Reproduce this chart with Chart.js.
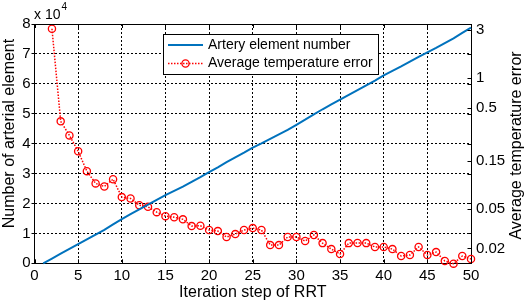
<!DOCTYPE html>
<html>
<head>
<meta charset="utf-8">
<script src="https://cdn.jsdelivr.net/npm/chart.js@4.4.1/dist/chart.umd.min.js"></script>
<style>
  html, body { margin: 0; padding: 0; background: #fff; }
  #wrap { width: 526px; height: 302px; position: relative; }
</style>
</head>
<body>
<div id="wrap"><canvas id="c" width="526" height="302"></canvas></div>
<script>
// ---- data ----
const steps = [1,2,3,4,5,6,7,8,9,10,11,12,13,14,15,16,17,18,19,20,21,22,23,24,25,26,27,28,29,30,31,32,33,34,35,36,37,38,39,40,41,42,43,44,45,46,47,48,49,50];
const arteryElements = [0,1600,3200,4800,6400,8000,9600,11200,13000,14800,16400,18000,19600,21200,22800,24200,25600,27200,28800,30500,32100,33800,35400,37000,38700,40100,41600,43100,44600,46300,48000,49800,51500,53100,54700,56300,57900,59500,61100,62800,64300,65800,67400,69000,70500,72000,73600,75200,77000,78800];
const errorSteps = [2,3,4,5,6,7,8,9,10,11,12,13,14,15,16,17,18,19,20,21,22,23,24,25,26,27,28,29,30,31,32,33,34,35,36,37,38,39,40,41,42,43,44,45,46,47,48,49,50];
const tempErrors = [3.1,0.37,0.268,0.186,0.118,0.089,0.083,0.098,0.065,0.063,0.054,0.052,0.046,0.042,0.041,0.039,0.0334,0.0337,0.0305,0.0298,0.026,0.0278,0.0305,0.0319,0.0305,0.0216,0.0216,0.026,0.026,0.0237,0.0272,0.0226,0.0197,0.0176,0.0226,0.0227,0.0226,0.0207,0.0207,0.0197,0.0168,0.0172,0.0207,0.0172,0.0184,0.015,0.0141,0.0168,0.0157];
const rightTicks = [0.02,0.05,0.15,0.5,1,3];
const labels = {
  series1: 'Artery element number',
  series2: 'Average temperature error',
  xTitle: 'Iteration step of RRT',
  yTitle: 'Number of arterial element',
  y1Title: 'Average temperature error',
  multiplier: 'x 10',
  exponent: '4'
};

const FONT = "'Liberation Sans', Arial, sans-serif";
const BLUE = '#0072BD';
const RED = '#FF0000';

Chart.defaults.font.family = FONT;
Chart.defaults.color = '#000';

const framePlugin = {
  id: 'frame',
  afterDatasetsDraw(chart) {
    const {ctx, chartArea: a, scales} = chart;
    const x = scales.x, y = scales.y, y1 = scales.y1;
    ctx.save();
    ctx.strokeStyle = '#000';
    ctx.lineWidth = 1;
    ctx.setLineDash([]);
    ctx.beginPath();
    const top = Math.round(a.top) + 0.5;
    ctx.moveTo(a.left, top); ctx.lineTo(a.right + 0.5, top);
    x.ticks.forEach(t => {
      const px = Math.round(x.getPixelForValue(t.value)) + 0.5;
      ctx.moveTo(px, a.bottom); ctx.lineTo(px, a.bottom - 4);
      ctx.moveTo(px, a.top); ctx.lineTo(px, a.top + 4);
    });
    const rx = Math.round(a.right) + 0.5;
    y.ticks.forEach(t => {
      const py = Math.round(y.getPixelForValue(t.value)) + 0.5;
      ctx.moveTo(rx, py); ctx.lineTo(rx - 4, py);
    });
    y1.ticks.forEach(t => {
      const py = Math.round(y1.getPixelForValue(t.value)) + 0.5;
      ctx.moveTo(rx, py); ctx.lineTo(rx - 4, py);
    });
    ctx.stroke();
    ctx.restore();
  },
  afterDraw(chart) {
    const {ctx} = chart;
    ctx.save();
    ctx.fillStyle = '#000';
    // multiplier
    ctx.font = '14px ' + FONT;
    ctx.textBaseline = 'alphabetic';
    ctx.textAlign = 'left';
    ctx.fillText(labels.multiplier, 34, 18.5);
    const w = ctx.measureText(labels.multiplier).width;
    ctx.font = '10px ' + FONT;
    ctx.fillText(labels.exponent, 34 + w + 1, 9.5);
    // y titles
    ctx.font = '16px ' + FONT;
    ctx.textAlign = 'center';
    ctx.textBaseline = 'middle';
    ctx.save();
    ctx.translate(10, 133.5);
    ctx.rotate(-Math.PI / 2);
    ctx.fillText(labels.yTitle, 0, 0);
    ctx.restore();
    ctx.save();
    ctx.translate(516.5, 145.5);
    ctx.rotate(-Math.PI / 2);
    ctx.fillText(labels.y1Title, 0, 0);
    ctx.restore();
    // legend
    const lx = 163.5, ly = 34.5, lw = 215, lh = 40;
    ctx.fillStyle = '#fff';
    ctx.fillRect(lx, ly, lw, lh);
    ctx.strokeStyle = '#000';
    ctx.lineWidth = 1;
    ctx.strokeRect(lx, ly, lw, lh);
    const ds = chart.data.datasets;
    const r1 = 45, r2 = 63.5, s0 = 168, s1 = 203;
    ctx.strokeStyle = ds[0].borderColor;
    ctx.lineWidth = ds[0].borderWidth;
    ctx.beginPath(); ctx.moveTo(s0, r1); ctx.lineTo(s1, r1); ctx.stroke();
    ctx.strokeStyle = ds[1].borderColor;
    ctx.lineWidth = ds[1].borderWidth;
    ctx.setLineDash(ds[1].borderDash);
    ctx.beginPath(); ctx.moveTo(s0, r2); ctx.lineTo(s1, r2); ctx.stroke();
    ctx.setLineDash([]);
    ctx.lineWidth = ds[1].pointBorderWidth;
    ctx.beginPath(); ctx.arc((s0 + s1) / 2, r2, ds[1].pointRadius, 0, Math.PI * 2); ctx.stroke();
    ctx.fillStyle = '#000';
    ctx.font = '14px ' + FONT;
    ctx.textAlign = 'left';
    ctx.textBaseline = 'middle';
    ctx.fillText(ds[0].label, 208, r1);
    ctx.fillText(ds[1].label, 208, r2);
    ctx.restore();
  }
};

new Chart(document.getElementById('c'), {
  type: 'line',
  data: {
    datasets: [
      {
        label: labels.series1,
        data: steps.map((s, i) => ({x: s, y: arteryElements[i]})),
        yAxisID: 'y',
        borderColor: BLUE,
        backgroundColor: BLUE,
        borderWidth: 2,
        pointRadius: 0,
        tension: 0,
        clip: false
      },
      {
        label: labels.series2,
        data: errorSteps.map((s, i) => ({x: s, y: tempErrors[i]})),
        yAxisID: 'y1',
        borderColor: RED,
        backgroundColor: 'rgba(0,0,0,0)',
        borderWidth: 1.5,
        borderDash: [1.5, 1.5],
        pointRadius: 3.6,
        pointBorderWidth: 1.3,
        pointBorderColor: RED,
        pointBackgroundColor: 'rgba(0,0,0,0)',
        tension: 0,
        clip: false
      }
    ]
  },
  options: {
    responsive: false,
    animation: false,
    events: [],
    layout: { padding: { top: 24, left: 0, right: 0, bottom: 0 } },
    plugins: { legend: { display: false }, tooltip: { enabled: false } },
    scales: {
      x: {
        type: 'linear',
        min: 0, max: 50,
        ticks: { stepSize: 5, padding: 4, font: { size: 15 }, color: '#000', maxRotation: 0 },
        grid: { color: '#000', lineWidth: 1, drawTicks: false },
        border: { display: true, color: '#000', width: 1, dash: [2, 2] },
        title: { display: true, text: labels.xTitle, font: { size: 16 }, color: '#000', padding: { top: 0, bottom: 0 } },
        afterFit(s) { s.height = 38.7; }
      },
      y: {
        type: 'linear',
        position: 'left',
        min: 0, max: 80000,
        ticks: { stepSize: 10000, padding: 1, font: { size: 15 }, color: '#000', callback: v => String(v / 10000) },
        grid: { color: '#000', lineWidth: 1, drawTicks: true, tickLength: 3, tickColor: '#000', tickBorderDash: [] },
        border: { display: true, color: '#000', width: 1, dash: [2, 2] },
        afterFit(s) { s.width = 34.5; }
      },
      y1: {
        type: 'logarithmic',
        position: 'right',
        min: 0.01422, max: 3.46,
        afterBuildTicks(s) { s.ticks = rightTicks.map(v => ({value: v})); },
        ticks: { padding: 5, font: { size: 15 }, color: '#000', callback: v => String(v) },
        grid: { drawOnChartArea: false, drawTicks: false },
        border: { display: true, color: '#000', width: 1 },
        afterFit(s) { s.width = 55; }
      }
    }
  },
  plugins: [framePlugin]
});
</script>
</body>
</html>
